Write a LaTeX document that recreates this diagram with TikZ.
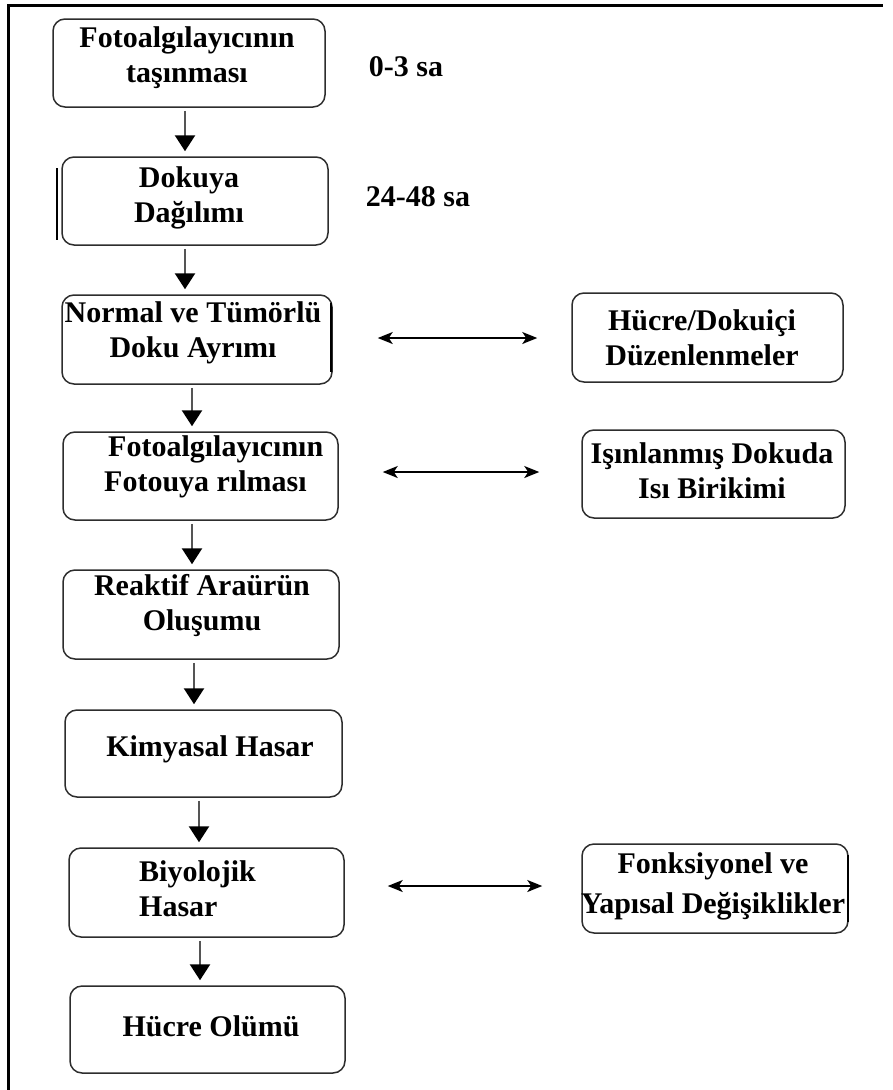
\documentclass[tikz,border=0pt]{standalone}
\usepackage{fontspec}
\setmainfont{Liberation Serif}
\usetikzlibrary{arrows.meta}
\definecolor{boxline}{RGB}{45,45,45}
\definecolor{varrowc}{RGB}{85,85,85}
\tikzset{
  box/.style={draw=boxline, line width=1.5pt, rounded corners=12pt, inner sep=0pt},
  lbl/.style={font=\fontsize{30}{35}\selectfont\bfseries, align=center, inner sep=0pt, text=black},
  lblleft/.style={font=\fontsize{30}{35}\selectfont\bfseries, align=left, inner sep=0pt, text=black},
  varrow/.style={draw=varrowc, line width=2.5pt, -{Triangle[width=20pt,length=16pt,color=black]}, shorten <=3pt, shorten >=5pt},
  harrow/.style={draw=black, line width=1.8pt, {Stealth[width=12pt,length=15pt,inset=4pt]}-{Stealth[width=12pt,length=15pt,inset=4pt]}},
  edgemark/.style={draw=black, line width=2.5pt},
  frameline/.style={draw=black, line width=3pt}
}
\begin{document}
\begin{tikzpicture}[x=1pt, y=-1pt]
\useasboundingbox (0,0) rectangle (893,1090);
% frame
\coordinate (fa) at (8,1090);
\coordinate (fb) at (8,5);
\coordinate (fc) at (883,5);
\draw[frameline] (fa) -- (fb) -- (fc);
% main column boxes
\node[box, minimum width=272pt, minimum height=88pt] (b1) at (189,63) {};
\node[box, minimum width=266pt, minimum height=88pt] (b2) at (195,201) {};
\node[box, minimum width=270pt, minimum height=89pt] (b3) at (197,339.5) {};
\node[box, minimum width=275pt, minimum height=88pt] (b4) at (200.5,476) {};
\node[box, minimum width=276pt, minimum height=89pt] (b5) at (201,614.5) {};
\node[box, minimum width=277pt, minimum height=87pt] (b6) at (203.5,753.5) {};
\node[box, minimum width=275pt, minimum height=89pt] (b7) at (206.5,892.5) {};
\node[box, minimum width=275pt, minimum height=87pt] (b8) at (207.5,1029.5) {};
% right boxes
\node[box, minimum width=271pt, minimum height=89pt] (r1) at (707.5,337.5) {};
\node[box, minimum width=263pt, minimum height=88pt] (r2) at (713.5,474) {};
\node[box, minimum width=266pt, minimum height=89pt] (r3) at (715,888.5) {};
% thick edge marks
\coordinate (m1a) at (57,168); \coordinate (m1b) at (57,240);
\coordinate (m2a) at (331,303); \coordinate (m2b) at (331,372);
\coordinate (m3a) at (848,855); \coordinate (m3b) at (848,922);
\draw[edgemark] (m1a) -- (m1b);
\draw[edgemark] (m2a) -- (m2b);
\draw[edgemark] (m3a) -- (m3b);
% texts
\node[lbl] (t1) at (187,58) {Fotoalgılayıcının\\taşınması};
\node[lbl] (t2) at (189,198) {Dokuya\\Dağılımı};
\node[lbl] (t3) at (193,333) {Normal ve Tümörlü\\Doku Ayrımı};
\node[lblleft, anchor=west] (t4) at (104,467) {\hspace*{4pt}Fotoalgılayıcının\\Fotouya rılması};
\node[lbl] (t5) at (202,606) {Reaktif Araürün\\Oluşumu};
\node[lbl] (t6) at (210,749) {Kimyasal Hasar};
\node[lblleft, anchor=west] (t7) at (139,889) {Biyolojik\\Hasar};
\node[lbl] (t8) at (211,1026) {Hücre Olümü};
\node[lbl] (tr1) at (702,338) {Hücre/Dokuiçi\\Düzenlenmeler};
\node[lbl] (tr2) at (712,471) {Işınlanmış Dokuda\\Isı Birikimi};
\node[lbl, font=\fontsize{30}{40}\selectfont\bfseries] (tr3) at (713,886) {Fonksiyonel ve\\Yapısal Değişiklikler};
\node[lbl] (s1) at (406,67) {0-3 sa};
\node[lbl] (s2) at (418,197) {24-48 sa};
% vertical arrows
\draw[varrow] ([xshift=-4pt]b1.south) -- ([xshift=-4pt]b1.south |- b2.north);
\draw[varrow] ([xshift=-10pt]b2.south) -- ([xshift=-10pt]b2.south |- b3.north);
\draw[varrow] ([xshift=-5pt]b3.south) -- ([xshift=-5pt]b3.south |- b4.north);
\draw[varrow] ([xshift=-8.5pt]b4.south) -- ([xshift=-8.5pt]b4.south |- b5.north);
\draw[varrow] ([xshift=-7pt]b5.south) -- ([xshift=-7pt]b5.south |- b6.north);
\draw[varrow] ([xshift=-4.5pt]b6.south) -- ([xshift=-4.5pt]b6.south |- b7.north);
\draw[varrow] ([xshift=-6.5pt]b7.south) -- ([xshift=-6.5pt]b7.south |- b8.north);
% horizontal double arrows
\draw[harrow, shorten <=45pt, shorten >=34pt] ([yshift=-0.5pt]r1.west -| b3.east) -- ([yshift=-0.5pt]r1.west);
\draw[harrow, shorten <=44pt, shorten >=42pt] ([yshift=2pt]r2.west -| b4.east) -- ([yshift=2pt]r2.west);
\draw[harrow, shorten <=43pt, shorten >=39pt] ([yshift=2.5pt]r3.west -| b7.east) -- ([yshift=2.5pt]r3.west);
\end{tikzpicture}
\end{document}
